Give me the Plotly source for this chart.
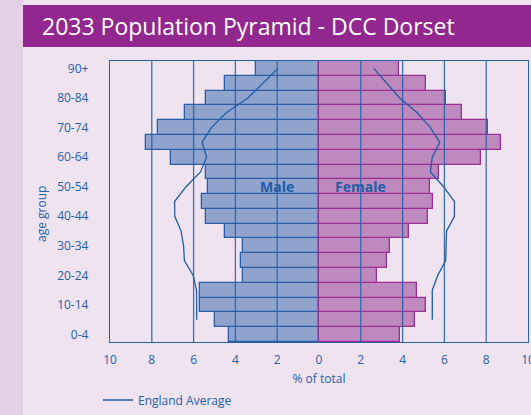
import plotly.graph_objects as go

# ---------------- data ----------------
age_groups = ["0-4", "5-9", "10-14", "15-19", "20-24", "25-29", "30-34", "35-39",
              "40-44", "45-49", "50-54", "55-59", "60-64", "65-69", "70-74",
              "75-79", "80-84", "85-89", "90+"]
tick_labels = ["0-4", "10-14", "20-24", "30-34", "40-44", "50-54", "60-64",
               "70-74", "80-84", "90+"]
male_pct = [4.30, 4.97, 5.70, 5.70, 3.63, 3.71, 3.65, 4.51, 5.42, 5.59,
            5.32, 5.42, 7.09, 8.26, 7.71, 6.39, 5.42, 4.50, 3.02]
female_pct = [3.87, 4.57, 5.11, 4.67, 2.77, 3.23, 3.39, 4.30, 5.21, 5.45,
              5.30, 5.73, 7.73, 8.72, 8.08, 6.82, 6.07, 5.11, 3.84]
england_male = [None, 5.85, 5.85, 5.86, 6.02, 6.44, 6.48, 6.60, 6.90, 6.91,
                6.36, 5.67, 5.38, 5.59, 5.15, 4.44, 3.40, 2.67, 1.97]
england_female = [None, 5.42, 5.42, 5.42, 5.68, 6.06, 6.08, 6.10, 6.48, 6.48,
                  5.96, 5.33, 5.42, 5.78, 5.33, 4.70, 3.86, 3.24, 2.62]
x_ticks = [-10, -8, -6, -4, -2, 0, 2, 4, 6, 8, 10]
x_tick_text = [str(abs(v)) for v in x_ticks]

# ---------------- style ----------------
W, H = 531, 415
L, R, T, B = 110, 3, 61, 73
BG = "#EFE3F0"
STRIP = "#E3D1E5"
PURPLE = "#91278F"
BLUE = "#2461AA"
FONT = "Open Sans"


def px(x):
    return (x - L) / (W - L - R)


def py(y):
    return (H - B - y) / (H - T - B)


fig = go.Figure()
fig.add_trace(go.Bar(
    y=age_groups, x=[-v for v in male_pct], orientation="h", name="Male",
    marker=dict(color="#8FA3CD", line=dict(color="#2A5EA8", width=1.3)),
    showlegend=False, hoverinfo="skip"))
fig.add_trace(go.Bar(
    y=age_groups, x=female_pct, orientation="h", name="Female",
    marker=dict(color="#BE89BE", line=dict(color="#9A2E95", width=1.3)),
    showlegend=False, hoverinfo="skip"))
fig.add_trace(go.Scatter(
    y=age_groups, x=[-v if v is not None else None for v in england_male],
    mode="lines", name="England Average", legendgroup="eng",
    line=dict(color="#1F5CA6", width=1.3), showlegend=True, hoverinfo="skip"))
fig.add_trace(go.Scatter(
    y=age_groups, x=england_female, mode="lines", name="England Average",
    legendgroup="eng", line=dict(color="#1F5CA6", width=1.3),
    showlegend=False, hoverinfo="skip"))

shapes = [
    dict(type="rect", xref="paper", yref="paper", x0=px(0), x1=px(23),
         y0=py(H), y1=py(0), fillcolor=STRIP, line=dict(width=0), layer="below"),
    dict(type="rect", xref="paper", yref="paper", x0=px(23), x1=px(W),
         y0=py(47), y1=py(5), fillcolor=PURPLE, line=dict(width=0), layer="below"),
]
for v in x_ticks:
    if v in (-10, 0, 10):
        continue
    shapes.append(dict(type="line", xref="x", yref="paper", x0=v, x1=v, y0=0, y1=1,
                       line=dict(color="rgba(31,95,168,0.85)", width=1.3),
                       layer="above"))

annotations = [
    dict(text="2033 Population Pyramid - DCC Dorset", xref="paper", yref="paper",
         x=px(40), y=py(26), xanchor="left", yanchor="middle", showarrow=False,
         font=dict(family=FONT, size=23, color="white")),
    dict(text="age group", xref="paper", yref="paper", x=px(41), y=py(214),
         textangle=-90, xanchor="center", yanchor="middle", showarrow=False,
         font=dict(family=FONT, size=12, color=BLUE)),
    dict(text="<b>Male</b>", xref="x", yref="y", x=-2, y="50-54", showarrow=False,
         font=dict(family=FONT, size=14, color="#1F5CA6")),
    dict(text="<b>Female</b>", xref="x", yref="y", x=2, y="50-54", showarrow=False,
         font=dict(family=FONT, size=14, color="#1F5CA6")),
]

fig.update_layout(
    width=W, height=H,
    margin=dict(l=L, r=R, t=T, b=B, pad=0, autoexpand=False),
    paper_bgcolor=BG, plot_bgcolor=BG,
    barmode="overlay", bargap=0,
    font=dict(family=FONT, size=12, color=BLUE),
    shapes=shapes, annotations=annotations,
    legend=dict(orientation="h", x=px(98), y=py(400), xanchor="left",
                yanchor="middle", bgcolor="rgba(0,0,0,0)",
                font=dict(family=FONT, size=12, color=BLUE)),
    xaxis=dict(range=[-10, 10], tickvals=x_ticks, ticktext=x_tick_text,
               showgrid=False, zeroline=False, showline=True, mirror=True,
               linecolor=BLUE, linewidth=1.3, ticks="", ticklabelstandoff=6,
               ticklabeloverflow="allow",
               tickfont=dict(family=FONT, size=12, color=BLUE),
               title=dict(text="% of total", standoff=8,
                          font=dict(family=FONT, size=12, color=BLUE)),
               automargin=False, fixedrange=True),
    yaxis=dict(categoryorder="array", categoryarray=age_groups,
               tickvals=tick_labels, ticktext=tick_labels, range=[-0.5, 18.5],
               showgrid=False, zeroline=False, showline=True, mirror=True,
               linecolor=BLUE, linewidth=1.3, ticks="", ticklabelstandoff=18,
               tickfont=dict(family=FONT, size=12, color=BLUE),
               automargin=False, fixedrange=True),
)

fig.write_html("out.html", config={"displayModeBar": False},
               post_script="document.body.style.margin='0px';"
                           "document.body.style.background='" + BG + "';")
